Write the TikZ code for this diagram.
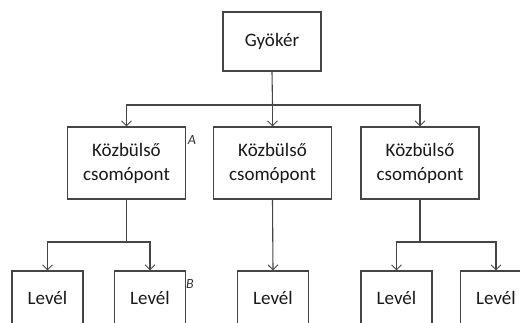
\documentclass[tikz,border=0pt]{standalone}
\usepackage{fontspec}
\setmainfont{Carlito}
\usetikzlibrary{arrows.meta}
\definecolor{ln}{HTML}{454545}
\tikzset{
  box/.style={draw=ln, line width=1.1pt, fill=white, align=center, inner sep=0pt, font=\fontsize{19}{24}\selectfont, text=black!90},
  mid/.style={box, minimum width=118pt, minimum height=72pt},
  leaf/.style={box, minimum width=71pt, minimum height=54pt},
  conn/.style={draw=ln, line width=1.1pt},
  arr/.style={conn, -{Straight Barb[length=5pt, width=10pt, line width=0.9pt]}},
  tag/.style={font=\itshape\fontsize{14}{14}\selectfont, text=black!80, inner sep=0pt}
}
\begin{document}
\begin{tikzpicture}[x=1pt,y=-1pt]
\useasboundingbox (0,0) rectangle (520,322);
\clip (0,0) rectangle (520,322);
\node[box, minimum width=98pt, minimum height=59pt] (root) at (272,41.5) {Gyökér};
\node[mid] (m1) at (126.5,163) {Közbülső\\csomópont};
\node[mid] (m2) at (272.5,163) {Közbülső\\csomópont};
\node[mid] (m3) at (420,163) {Közbülső\\csomópont};
\node[leaf] (l1) at (47.5,298) {Levél};
\node[leaf] (l2) at (150,298) {Levél};
\node[leaf] (l3) at (273,298) {Levél};
\node[leaf] (l4) at (396.5,298) {Levél};
\node[leaf] (l5) at (496,298) {Levél};
\coordinate (j0) at (272.5,105);
\coordinate (j1) at (126.5,242);
\coordinate (j3) at (420,242);
\draw[conn] (root.south) -- (j0);
\draw[arr] (j0) -| (m1.north);
\draw[arr] (j0) -- (m2.north);
\draw[arr] (j0) -| (m3.north);
\draw[conn] (m1.south) -- (j1);
\draw[arr] (j1) -| (l1.north);
\draw[arr] (j1) -| (l2.north);
\draw[arr] (m2.south) -- (l3.north);
\draw[conn] (m3.south) -- (j3);
\draw[arr] (j3) -| (l4.north);
\draw[arr] (j3) -| (l5.north);
\node[tag] (ta) at (192,140) {A};
\node[tag] (tb) at (190,284) {B};
\end{tikzpicture}
\end{document}
